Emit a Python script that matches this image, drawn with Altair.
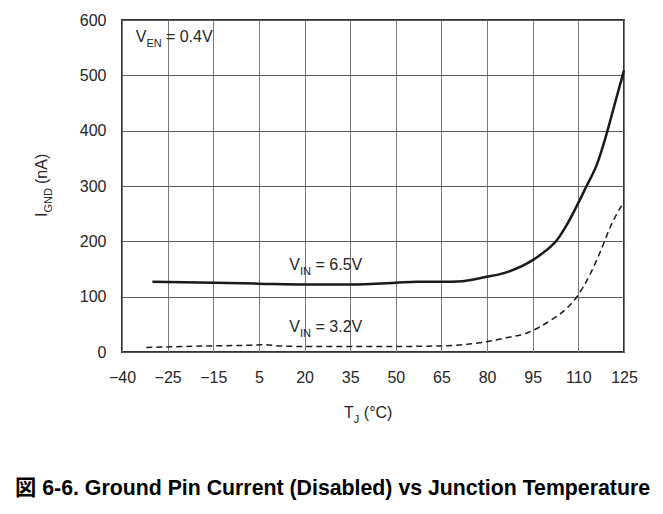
import altair as alt
import pandas as pd

# ---- data ----
temp_65 = [-30, -20, -10, 5, 20, 35, 50, 57, 65, 72, 79.1, 85.8, 91.4, 95, 98.1, 101, 102.6, 106, 109.3, 112.7, 116.1, 118.9, 121.7, 125]
ignd_65 = [127, 126, 125, 123.5, 122, 122, 125, 127, 127, 128, 135, 143, 155, 166, 178, 191, 200, 228, 262, 300, 339, 387, 443, 509]

temp_32 = [-32, -20, -10, 0, 7, 12, 20, 35, 50, 65, 72, 79.1, 85.8, 93.7, 101.5, 106, 109.3, 113.8, 117.2, 120.5, 125]
ignd_32 = [8, 10, 11, 12, 13, 11, 10, 10, 10, 11, 13, 18, 25, 35.7, 59.5, 78, 98, 140, 181, 226, 272]

x_tick_values = [-40, -25, -10, 5, 20, 35, 50, 65, 80, 95, 110, 125]
x_tick_labels = ["\u221240", "\u221225", "\u221215", "5", "20", "35", "50", "65", "80", "95", "110", "125"]
y_tick_values = [0, 100, 200, 300, 400, 500, 600]

caption = "\u56f3 6-6. Ground Pin Current (Disabled) vs Junction Temperature"

FONT = "Liberation Sans, Arial, sans-serif"
CAP_FONT = "Liberation Sans, Arial, Noto Sans CJK JP, sans-serif"
INK = "#1a1a1a"
TXT = "#262626"

W, H = 502, 332

df65 = pd.DataFrame({"T": temp_65, "I": ignd_65})
df32 = pd.DataFrame({"T": temp_32, "I": ignd_32})

label_expr = " : ".join(
    [f"datum.value == {v} ? '{l}'" for v, l in zip(x_tick_values, x_tick_labels)]
) + " : ''"

xscale = alt.Scale(domain=[-40, 125], nice=False, zero=False)
yscale = alt.Scale(domain=[0, 600], nice=False)

x_axis = alt.Axis(
    values=x_tick_values, labelExpr=label_expr, title=None, domain=False, ticks=False,
    grid=True, gridColor="#7a7a7a", gridWidth=1, labelFont=FONT, labelFontSize=16,
    labelColor=TXT, labelPadding=17, labelFlush=False,
)
y_axis = alt.Axis(
    values=y_tick_values, title=None, domain=False, ticks=False, grid=True,
    gridColor="#5a5a5a", gridWidth=1, labelFont=FONT, labelFontSize=16,
    labelColor=TXT, labelPadding=16,
)

solid = alt.Chart(df65).mark_line(color=INK, strokeWidth=2.5, interpolate="monotone").encode(
    x=alt.X("T:Q", scale=xscale, axis=x_axis),
    y=alt.Y("I:Q", scale=yscale, axis=y_axis),
)
dashed = alt.Chart(df32).mark_line(
    color=INK, strokeWidth=1.5, strokeDash=[6, 4], interpolate="monotone"
).encode(
    x=alt.X("T:Q", scale=xscale),
    y=alt.Y("I:Q", scale=yscale),
)

layers = [solid, dashed]

# ---- in-plot annotations with subscripts (anchored in data coordinates) ----
ann_main = ["V", "V", "V"]
ann_sub = ["EN", "IN", "IN"]
ann_rest = ["= 0.4V", "= 6.5V", "= 3.2V"]
ann_x = [-35.5, 15, 15]
ann_y = [560, 148, 37]
sub_w = {"EN": 15.5, "IN": 11.5}

for m, s, r, ax, ay in zip(ann_main, ann_sub, ann_rest, ann_x, ann_y):
    d = pd.DataFrame({"T": [ax], "I": [ay], "a": [m], "b": [s], "c": [r]})
    base = alt.Chart(d)
    enc = dict(x=alt.X("T:Q", scale=xscale), y=alt.Y("I:Q", scale=yscale))
    layers.append(base.mark_text(font=FONT, fontSize=16, color=TXT, align="left",
                                 baseline="alphabetic").encode(text="a:N", **enc))
    layers.append(base.mark_text(font=FONT, fontSize=11, color=TXT, align="left",
                                 baseline="alphabetic", dx=10.7, dy=5).encode(text="b:N", **enc))
    layers.append(base.mark_text(font=FONT, fontSize=16, color=TXT, align="left",
                                 baseline="alphabetic", dx=10.7 + sub_w[s] + 4).encode(text="c:N", **enc))

# ---- axis titles built from text marks (for subscripts) ----
one = pd.DataFrame({"k": [0]})

def txt(text, x, y, size=16, angle=0, dx=0, dy=0, bold=False, font=FONT, color=TXT, baseline="alphabetic"):
    kw = dict(font=font, fontSize=size, color=color, align="left", baseline=baseline,
              text=text, dx=dx, dy=dy)
    if angle:
        kw["angle"] = angle
    if bold:
        kw["fontWeight"] = "bold"
    return alt.Chart(one).mark_text(**kw).encode(x=alt.value(x), y=alt.value(y))

# x title: T_J (°C)
tx, ty = 222, 398
layers.append(txt("T", tx, ty))
layers.append(txt("J", tx, ty, size=11, dx=9.8, dy=5))
layers.append(txt("(\u00b0C)", tx, ty, dx=9.8 + 6 + 4))

# y title: I_GND (nA), rotated
yx, yy = -75, 197
layers.append(txt("I", yx, yy, angle=270))
layers.append(txt("GND", yx, yy, size=11, angle=270, dx=4.5, dy=5))
layers.append(txt("(nA)", yx, yy, angle=270, dx=4.5 + 24.5 + 4))

# caption
layers.append(txt(caption, -107, 469, size=21.3, bold=True, font=CAP_FONT, color="#000000",
                  baseline="middle"))

chart = alt.layer(*layers).properties(
    width=W, height=H,
    autosize=alt.AutoSizeParams(type="none"),
    padding={"left": 114, "top": 12, "right": 30, "bottom": 150},
    background="white",
).configure_view(stroke="#333333", strokeWidth=2)

chart.save("out.html", embed_options={"renderer": "svg", "actions": False})
